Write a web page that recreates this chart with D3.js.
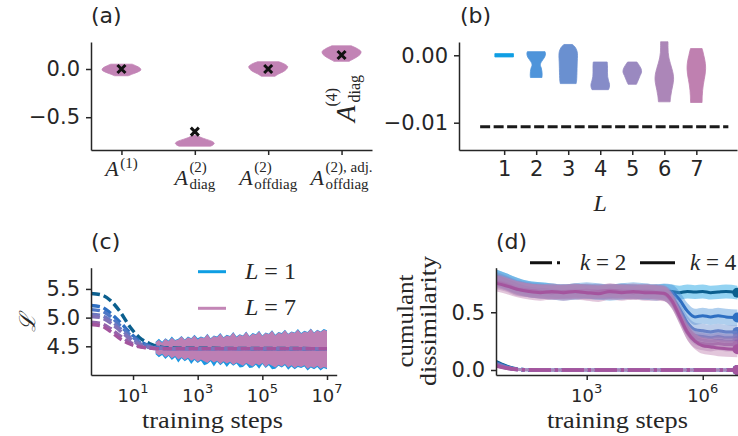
<!DOCTYPE html>
<html>
<head>
<meta charset="utf-8">
<script src="https://cdn.jsdelivr.net/npm/d3@7"></script>
<style>
  body { margin: 0; background: #ffffff; }
  svg { display: block; }
</style>
</head>
<body>
<svg id="fig" width="738" height="436"></svg>
<script>
// ---------------- data ----------------
// (a) cumulant coefficients, one violin per coefficient
const aPositions = [1, 2, 3, 4];
const aSup = ["(1)", "(2)", "(2)", "(2), adj."];
const aSub = ["", "diag", "offdiag", "offdiag"];
const aMeans = [0.0, -0.65, 0.0, 0.145];
const aViolinValues = [
  [0.05, 0.03, 0.01, -0.01, -0.03, -0.05, -0.07],
  [-0.69, -0.71, -0.73, -0.75, -0.77, -0.79, -0.80],
  [0.075, 0.05, 0.025, 0.0, -0.025, -0.05, -0.075],
  [0.24, 0.21, 0.18, 0.15, 0.12, 0.09, 0.08]
];
const aViolinDensity = [
  [0.55, 0.78, 0.95, 1.0, 0.85, 0.6, 0.35],
  [0.12, 0.32, 0.6, 0.88, 1.0, 0.92, 0.8],
  [0.55, 0.85, 1.0, 0.95, 0.8, 0.55, 0.35],
  [0.5, 0.82, 1.0, 0.95, 0.75, 0.48, 0.4]
];

// (b) A^(4)_diag per depth L
const bDepths = [1, 2, 3, 4, 5, 6, 7];
const bViolinValues = [
  [0.00025, -0.00025],
  [0.00054, 0.0003, 0.0, -0.0003, -0.0006, -0.0009, -0.0012, -0.0015, -0.0019, -0.0024, -0.0029, -0.0033],
  [0.0016, 0.0012, 0.0006, 0.0, -0.001, -0.002, -0.003, -0.0038, -0.0042],
  [-0.001, -0.0015, -0.002, -0.0026, -0.0032, -0.0038, -0.0043, -0.0048, -0.0051],
  [-0.001, -0.0015, -0.002, -0.0025, -0.003, -0.0035, -0.004, -0.0043],
  [0.002, 0.0012, 0.0004, -0.0004, -0.0012, -0.002, -0.0028, -0.0036, -0.0044, -0.0052, -0.006, -0.0069],
  [0.001, 0.0005, 0.0, -0.0006, -0.0012, -0.002, -0.0028, -0.0036, -0.0044, -0.0052, -0.006, -0.007]
];
const bViolinDensity = [
  [1.0, 1.0],
  [0.95, 1.0, 0.98, 0.9, 0.75, 0.6, 0.48, 0.45, 0.55, 0.62, 0.64, 0.62],
  [0.45, 0.75, 0.95, 1.0, 0.97, 0.95, 0.93, 0.9, 0.85],
  [0.75, 0.78, 0.78, 0.78, 0.8, 0.9, 1.0, 0.97, 0.88],
  [0.5, 0.75, 0.95, 1.0, 0.85, 0.7, 0.55, 0.45],
  [0.4, 0.4, 0.42, 0.5, 0.65, 0.82, 0.96, 1.0, 0.92, 0.8, 0.7, 0.63],
  [0.62, 0.72, 0.8, 0.9, 0.97, 1.0, 0.95, 0.85, 0.75, 0.68, 0.64, 0.62]
];
const bReference = -0.0106;

// colours per depth L = 1 ... 7
const depthColors = ["#0f9ee3", "#4e94da", "#6a90d0", "#868cc8", "#9a89c0", "#ac86b8", "#bf80b0"];
const depthLineColors = ["#0b5f8e", "#2e6fc2", "#4f78c6", "#6d78c0", "#8272b8", "#9464ac", "#a4559e"];

// (c) loss curves (mean) for L = 1 ... 7
const cSteps = [0.5, 1, 2, 4, 8, 16, 32, 64, 128, 1e7];
const cLoss = [
  [5.42, 5.40, 5.30, 5.10, 4.84, 4.65, 4.55, 4.49, 4.47, 4.46],
  [5.21, 5.19, 5.08, 4.92, 4.74, 4.59, 4.51, 4.48, 4.46, 4.46],
  [5.14, 5.12, 5.02, 4.86, 4.70, 4.57, 4.50, 4.47, 4.46, 4.46],
  [5.06, 5.04, 4.95, 4.81, 4.66, 4.55, 4.49, 4.47, 4.46, 4.46],
  [5.02, 5.00, 4.91, 4.77, 4.63, 4.53, 4.48, 4.47, 4.46, 4.46],
  [4.92, 4.90, 4.81, 4.68, 4.57, 4.50, 4.47, 4.46, 4.46, 4.46],
  [4.88, 4.86, 4.76, 4.63, 4.54, 4.49, 4.47, 4.46, 4.46, 4.46]
];
// per-step loss envelopes for L = 1 (blue) and L = 7 (pink), log10 of step
const cBandExp = [1.7, 1.8, 1.9, 2.0, 2.1, 2.2, 2.3, 2.4, 2.5, 2.6, 2.7, 2.8, 2.9, 3.0, 3.1, 3.2, 3.3, 3.4, 3.5, 3.6,
  3.7, 3.8, 3.9, 4.0, 4.1, 4.2, 4.3, 4.4, 4.5, 4.6, 4.7, 4.8, 4.9, 5.0, 5.1, 5.2, 5.3, 5.4, 5.5, 5.6,
  5.7, 5.8, 5.9, 6.0, 6.1, 6.2, 6.3, 6.4, 6.5, 6.6, 6.7, 6.8, 6.9, 7.0];
const cBlueUpper = [4.58, 4.63, 4.58, 4.64, 4.60, 4.67, 4.61, 4.63, 4.68, 4.62, 4.67, 4.64, 4.70, 4.64, 4.67, 4.65, 4.72, 4.64,
  4.69, 4.67, 4.73, 4.66, 4.70, 4.68, 4.75, 4.67, 4.71, 4.69, 4.76, 4.68, 4.73, 4.71, 4.77, 4.69, 4.74, 4.72,
  4.78, 4.70, 4.75, 4.73, 4.79, 4.72, 4.76, 4.74, 4.80, 4.73, 4.77, 4.75, 4.81, 4.74, 4.79, 4.76, 4.80, 4.78];
const cBlueLower = [4.36, 4.31, 4.35, 4.28, 4.33, 4.26, 4.31, 4.22, 4.29, 4.24, 4.28, 4.19, 4.26, 4.21, 4.25, 4.17, 4.19, 4.24,
  4.15, 4.23, 4.17, 4.22, 4.14, 4.21, 4.16, 4.20, 4.13, 4.14, 4.19, 4.12, 4.13, 4.18, 4.11, 4.19, 4.12, 4.17,
  4.10, 4.11, 4.16, 4.13, 4.17, 4.09, 4.15, 4.10, 4.14, 4.12, 4.15, 4.08, 4.13, 4.10, 4.14, 4.08, 4.12, 4.10];
const cPinkUpper = [4.57, 4.61, 4.56, 4.63, 4.59, 4.65, 4.60, 4.62, 4.67, 4.61, 4.66, 4.63, 4.69, 4.62, 4.66, 4.64, 4.71, 4.63,
  4.68, 4.66, 4.72, 4.65, 4.69, 4.67, 4.74, 4.66, 4.70, 4.68, 4.75, 4.67, 4.72, 4.70, 4.76, 4.68, 4.73, 4.71,
  4.77, 4.69, 4.74, 4.72, 4.78, 4.71, 4.75, 4.73, 4.79, 4.72, 4.76, 4.74, 4.80, 4.73, 4.78, 4.75, 4.79, 4.77];
const cPinkLower = [4.38, 4.34, 4.37, 4.31, 4.35, 4.29, 4.33, 4.27, 4.31, 4.26, 4.30, 4.25, 4.28, 4.23, 4.27, 4.24, 4.21, 4.26,
  4.22, 4.25, 4.19, 4.24, 4.20, 4.23, 4.18, 4.22, 4.19, 4.16, 4.21, 4.18, 4.15, 4.20, 4.17, 4.21, 4.14, 4.19,
  4.16, 4.13, 4.18, 4.15, 4.19, 4.13, 4.17, 4.12, 4.16, 4.14, 4.17, 4.11, 4.15, 4.12, 4.16, 4.11, 4.14, 4.12];

// (d) cumulant dissimilarity, k = 4 (solid) and k = 2 (dash-dot), L = 1 ... 7
const dSteps = [4.6, 8, 16, 32, 63, 126, 251, 501, 1000, 2000, 4000, 8000, 16000, 32000, 63000, 1e5,
  1.6e5, 2.5e5, 4e5, 6.3e5, 1e6, 1.6e6, 2.5e6, 4e6, 7.9e6];
const dK4 = [
  [0.81, 0.78, 0.74, 0.71, 0.70, 0.69, 0.68, 0.69, 0.68, 0.67, 0.68, 0.69, 0.68, 0.67, 0.68, 0.685, 0.68, 0.67, 0.68, 0.675, 0.68, 0.67, 0.675, 0.68, 0.67],
  [0.80, 0.77, 0.73, 0.70, 0.69, 0.68, 0.67, 0.68, 0.69, 0.68, 0.67, 0.68, 0.69, 0.68, 0.67, 0.68, 0.67, 0.61, 0.51, 0.46, 0.47, 0.46, 0.47, 0.46, 0.455],
  [0.79, 0.76, 0.72, 0.70, 0.69, 0.68, 0.68, 0.67, 0.68, 0.69, 0.68, 0.67, 0.68, 0.69, 0.68, 0.67, 0.63, 0.53, 0.41, 0.35, 0.34, 0.33, 0.34, 0.33, 0.33],
  [0.78, 0.75, 0.71, 0.69, 0.68, 0.67, 0.68, 0.69, 0.68, 0.67, 0.68, 0.69, 0.68, 0.67, 0.68, 0.66, 0.61, 0.50, 0.37, 0.30, 0.29, 0.28, 0.29, 0.28, 0.28],
  [0.77, 0.75, 0.71, 0.69, 0.68, 0.68, 0.67, 0.68, 0.69, 0.68, 0.67, 0.68, 0.67, 0.68, 0.67, 0.66, 0.60, 0.48, 0.35, 0.28, 0.26, 0.25, 0.26, 0.25, 0.25],
  [0.76, 0.74, 0.70, 0.69, 0.68, 0.67, 0.68, 0.68, 0.67, 0.68, 0.69, 0.68, 0.67, 0.68, 0.67, 0.66, 0.59, 0.46, 0.32, 0.25, 0.23, 0.22, 0.23, 0.22, 0.22],
  [0.75, 0.73, 0.70, 0.68, 0.67, 0.68, 0.67, 0.68, 0.67, 0.66, 0.68, 0.67, 0.68, 0.67, 0.67, 0.665, 0.60, 0.47, 0.33, 0.25, 0.21, 0.20, 0.19, 0.185, 0.18]
];
const dK2 = [
  [0.07, 0.035, 0.008, 0.001, 0, 0, 0, 0, 0, 0, 0, 0, 0, 0, 0, 0, 0, 0, 0, 0, 0, 0, 0, 0, 0],
  [0.062, 0.03, 0.007, 0.001, 0, 0, 0, 0, 0, 0, 0, 0, 0, 0, 0, 0, 0, 0, 0, 0, 0, 0, 0, 0, 0],
  [0.056, 0.027, 0.006, 0.001, 0, 0, 0, 0, 0, 0, 0, 0, 0, 0, 0, 0, 0, 0, 0, 0, 0, 0, 0, 0, 0],
  [0.05, 0.024, 0.005, 0.001, 0, 0, 0, 0, 0, 0, 0, 0, 0, 0, 0, 0, 0, 0, 0, 0, 0, 0, 0, 0, 0],
  [0.045, 0.022, 0.005, 0.001, 0, 0, 0, 0, 0, 0, 0, 0, 0, 0, 0, 0, 0, 0, 0, 0, 0, 0, 0, 0, 0],
  [0.04, 0.02, 0.004, 0.001, 0, 0, 0, 0, 0, 0, 0, 0, 0, 0, 0, 0, 0, 0, 0, 0, 0, 0, 0, 0, 0],
  [0.035, 0.018, 0.004, 0.001, 0, 0, 0, 0, 0, 0, 0, 0, 0, 0, 0, 0, 0, 0, 0, 0, 0, 0, 0, 0, 0]
];
const dK4Spread = [0.06, 0.07, 0.06, 0.06, 0.06, 0.06, 0.07];
const dK2Spread = [0.012, 0.012, 0.012, 0.012, 0.012, 0.012, 0.012];

// tick values
const aYTicks = [-0.5, 0.0];
const bYTicks = [-0.01, 0.0];
const cYTicks = [4.5, 5.0, 5.5];
const cXTickExp = [1, 3, 5, 7];
const dYTicks = [0.0, 0.5];
const dXTickExp = [3, 6];

// ---------------- drawing ----------------
const ink = "#262626";
const sans = "'DejaVu Sans', sans-serif";
const serif = "'Liberation Serif', 'Times New Roman', serif";
const tickFont = 21;
const svg = d3.select("#fig");

function styleAxis(g) {
  g.select(".domain").attr("stroke", ink).attr("stroke-width", 1.5);
  g.selectAll(".tick line").attr("stroke", ink).attr("stroke-width", 1.5);
  g.selectAll(".tick text").attr("font-family", sans).attr("font-size", tickFont).attr("fill", ink);
}
function leftAxis(scale, ticks, fmt, x) {
  const g = svg.append("g").attr("transform", `translate(${x},0)`)
    .call(d3.axisLeft(scale).tickValues(ticks).tickFormat(fmt).tickSize(5).tickSizeOuter(0).tickPadding(6));
  styleAxis(g);
  return g;
}
function bottomAxis(scale, ticks, fmt, y) {
  const g = svg.append("g").attr("transform", `translate(0,${y})`)
    .call(d3.axisBottom(scale).tickValues(ticks).tickFormat(fmt).tickSize(5).tickSizeOuter(0).tickPadding(6));
  styleAxis(g);
  return g;
}
function logLabels(scale, exps, y) {
  exps.forEach(e => {
    const t = svg.append("text").attr("x", scale(Math.pow(10, e))).attr("y", y)
      .attr("text-anchor", "middle").attr("font-family", sans).attr("font-size", 18).attr("fill", ink);
    t.append("tspan").text("10");
    t.append("tspan").attr("dy", -9).attr("font-size", 13).text(e);
  });
}
function panelLabel(txt, x, y) {
  svg.append("text").attr("x", x).attr("y", y).attr("font-family", sans)
    .attr("font-size", 22).attr("fill", ink).text(txt);
}
// italic base symbol with optional stacked super/subscript, centred on its anchor
function mathLabel(parent, base, sup, sub, fs, ss, supRise, subDrop) {
  const g = parent.append("g");
  const inner = g.append("g");
  const b = inner.append("text").attr("font-family", serif).attr("font-style", "italic")
    .attr("font-size", fs).attr("fill", ink).text(base);
  const bw = b.node().getComputedTextLength();
  const x0 = bw + 1.5;
  let w = bw;
  if (sup) {
    const s = inner.append("text").attr("x", x0).attr("y", -supRise).attr("font-family", serif)
      .attr("font-size", ss).attr("fill", ink).text(sup);
    w = Math.max(w, x0 + s.node().getComputedTextLength());
  }
  if (sub) {
    const s = inner.append("text").attr("x", x0).attr("y", subDrop).attr("font-family", serif)
      .attr("font-size", ss).attr("fill", ink).text(sub);
    w = Math.max(w, x0 + s.node().getComputedTextLength());
  }
  inner.attr("transform", `translate(${-w / 2},0)`);
  return g;
}
function violin(x, y, pos, values, dens, halfUnits, color) {
  const half = x(pos + halfUnits) - x(pos);
  const pts = values.map((v, i) => ({ v, w: dens[i] }));
  const area = d3.area()
    .y(d => y(d.v))
    .x0(d => x(pos) - d.w * half)
    .x1(d => x(pos) + d.w * half)
    .curve(d3.curveCatmullRom.alpha(0.5));
  svg.append("path").datum(pts).attr("d", area).attr("fill", color).attr("stroke", color).attr("stroke-width", 0.8);
}

// ----- panel (a)
const xA = d3.scaleLinear().domain([0.585, 4.415]).range([91, 372]);
const yA = d3.scaleLinear().domain([-0.84, 0.28]).range([150, 42]);
aPositions.forEach((p, i) => violin(xA, yA, p, aViolinValues[i], aViolinDensity[i], 0.265, "#c283b5"));
aPositions.forEach((p, i) => {
  const cx = xA(p), cy = yA(aMeans[i]), r = 4;
  svg.append("path").attr("d", `M${cx - r},${cy - r}L${cx + r},${cy + r}M${cx - r},${cy + r}L${cx + r},${cy - r}`)
    .attr("stroke", "#111").attr("stroke-width", 3).attr("fill", "none");
});
leftAxis(yA, aYTicks, d3.format(".1f"), 91);
bottomAxis(xA, aPositions, () => "", 150);
aPositions.forEach((p, i) => {
  const hasSub = aSub[i] !== "";
  const g = mathLabel(svg, "A", aSup[i], aSub[i], 22, 15, hasSub ? 13 : 8, 4);
  g.attr("transform", `translate(${xA(p)},${hasSub ? 185 : 176})`);
});
panelLabel("(a)", 91, 23);

// ----- panel (b)
const xB = d3.scaleLinear().domain([-0.41, 8.27]).range([459, 737]);
const yB = d3.scaleLinear().domain([-0.01405, 0.00197]).range([150, 42]);
bDepths.forEach((L, i) => violin(xB, yB, L, bViolinValues[i], bViolinDensity[i], 0.29, depthColors[i]));
svg.append("line").attr("x1", xB(0.25)).attr("x2", xB(8.0)).attr("y1", yB(bReference)).attr("y2", yB(bReference))
  .attr("stroke", "#1a1a1a").attr("stroke-width", 3).attr("stroke-dasharray", "10,3.5");
leftAxis(yB, bYTicks, d3.format(".2f"), 459);
bottomAxis(xB, bDepths, d3.format("d"), 150);
svg.append("text").attr("x", xB(4)).attr("y", 211).attr("text-anchor", "middle")
  .attr("font-family", serif).attr("font-style", "italic").attr("font-size", 24).attr("fill", ink).text("L");
// y label of (b): A^(4)_diag, reading upwards, baseline at x = 355, starting at y = 122
const bLab = svg.append("g").attr("transform", "translate(355,122) rotate(-90)");
const bA = bLab.append("text").attr("font-family", serif).attr("font-style", "italic")
  .attr("font-size", 27).attr("fill", ink).text("A");
const bAw = bA.node().getComputedTextLength();
bLab.append("text").attr("x", bAw - 1).attr("y", -18).attr("font-family", serif)
  .attr("font-size", 16).attr("fill", ink).text("(4)");
bLab.append("text").attr("x", bAw + 3).attr("y", 5).attr("font-family", serif)
  .attr("font-size", 16).attr("fill", ink).text("diag");
panelLabel("(b)", 460, 23);

// ----- panel (c)
const xC = d3.scaleLog().domain([Math.pow(10, -0.3), Math.pow(10, 7.3)]).range([91, 336.7]);
const yC = d3.scaleLinear().domain([4.0, 5.87]).range([375, 267.7]);
function band(x, y, steps, lo, hi, color, opacity) {
  const pts = steps.map((s, i) => ({ s, lo: lo[i], hi: hi[i] }));
  svg.append("path").datum(pts)
    .attr("d", d3.area().x(d => x(d.s)).y0(d => y(d.lo)).y1(d => y(d.hi)))
    .attr("fill", color).attr("fill-opacity", opacity);
}
const cBandSteps = cBandExp.map(e => Math.pow(10, e));
band(xC, yC, cBandSteps, cBlueLower, cBlueUpper, "#1a98e2", 1);
band(xC, yC, cBandSteps, cPinkLower, cPinkUpper, "#bd7fb4", 1);
cLoss.forEach((series, i) => {
  const line = d3.line().x((d, j) => xC(cSteps[j])).y(d => yC(d)).curve(d3.curveMonotoneX);
  svg.append("path").datum(series).attr("d", line).attr("fill", "none")
    .attr("stroke", depthLineColors[i]).attr("stroke-width", 3.4).attr("stroke-dasharray", "9,4");
});
leftAxis(yC, cYTicks, d3.format(".1f"), 91);
bottomAxis(xC, cXTickExp.map(e => Math.pow(10, e)), () => "", 375);
logLabels(xC, cXTickExp, 402);
svg.append("text").attr("x", 212.5).attr("y", 428).attr("text-anchor", "middle")
  .attr("font-family", serif).attr("font-size", 24).attr("fill", ink)
  .attr("textLength", 141).attr("lengthAdjust", "spacingAndGlyphs").text("training steps");
svg.append("text").attr("transform", "translate(35,323) rotate(-90)").attr("text-anchor", "middle")
  .attr("font-family", "'DejaVu Serif', serif").attr("font-style", "italic").attr("font-size", 22).attr("fill", ink).text("ℒ");
// legend
[["1", 271.7, depthColors[0]], ["7", 308.3, "#c386b6"]].forEach(([num, ly, col]) => {
  svg.append("line").attr("x1", 198).attr("x2", 226).attr("y1", ly).attr("y2", ly)
    .attr("stroke", col).attr("stroke-width", 3);
  const t = svg.append("text").attr("x", 245).attr("y", ly + 7).attr("font-family", serif)
    .attr("font-size", 24).attr("fill", ink);
  t.append("tspan").attr("font-style", "italic").text("L");
  t.append("tspan").text(" = " + num);
});
panelLabel("(c)", 91, 249);

// ----- panel (d)
const xD = d3.scaleLog().domain([Math.pow(10, 0.655), 1e7]).range([496, 741.4]);
const yD = d3.scaleLinear().domain([-0.0433, 0.886]).range([375, 267.7]);
svg.append("clipPath").attr("id", "clipD").append("rect")
  .attr("x", 496).attr("y", 262).attr("width", 250).attr("height", 120);
const gD = svg.append("g").attr("clip-path", "url(#clipD)");
function dSeries(series, spread, color, lineColor, dash) {
  const pts = series.map((v, j) => ({ s: dSteps[j], v }));
  gD.append("path").datum(pts)
    .attr("d", d3.area().x(d => xD(d.s)).y0(d => yD(d.v - spread)).y1(d => yD(d.v + spread)).curve(d3.curveMonotoneX))
    .attr("fill", color).attr("fill-opacity", 0.45);
  const p = gD.append("path").datum(pts)
    .attr("d", d3.line().x(d => xD(d.s)).y(d => yD(d.v)).curve(d3.curveMonotoneX))
    .attr("fill", "none").attr("stroke", lineColor).attr("stroke-width", dash ? 3.6 : 3);
  if (dash) p.attr("stroke-dasharray", dash);
  const last = pts[pts.length - 1];
  gD.append("circle").attr("cx", xD(last.s)).attr("cy", yD(last.v)).attr("r", 5).attr("fill", lineColor);
}
dK4.forEach((s, i) => dSeries(s, dK4Spread[i], depthColors[i], depthLineColors[i], null));
dK2.forEach((s, i) => dSeries(s, dK2Spread[i], depthColors[i], depthLineColors[i], "22,4,3,4"));
leftAxis(yD, dYTicks, d3.format(".1f"), 496);
bottomAxis(xD, dXTickExp.map(e => Math.pow(10, e)), () => "", 375);
logLabels(xD, dXTickExp, 402);
svg.append("text").attr("x", 617.5).attr("y", 428).attr("text-anchor", "middle")
  .attr("font-family", serif).attr("font-size", 24).attr("fill", ink)
  .attr("textLength", 141).attr("lengthAdjust", "spacingAndGlyphs").text("training steps");
const yl = svg.append("g").attr("transform", "translate(413,321) rotate(-90)");
yl.append("text").attr("x", 0).attr("y", 0).attr("text-anchor", "middle").attr("font-family", serif)
  .attr("font-size", 24).attr("fill", ink).attr("textLength", 93).attr("lengthAdjust", "spacingAndGlyphs").text("cumulant");
yl.append("text").attr("x", 0).attr("y", 23).attr("text-anchor", "middle").attr("font-family", serif)
  .attr("font-size", 24).attr("fill", ink).attr("textLength", 130).attr("lengthAdjust", "spacingAndGlyphs").text("dissimilarity");
// legend
svg.append("line").attr("x1", 530).attr("x2", 567).attr("y1", 262.7).attr("y2", 262.7)
  .attr("stroke", "#111").attr("stroke-width", 3).attr("stroke-dasharray", "22,5,3,40");
svg.append("line").attr("x1", 640).attr("x2", 675).attr("y1", 262.7).attr("y2", 262.7)
  .attr("stroke", "#111").attr("stroke-width", 3);
[["2", 580], ["4", 690]].forEach(([num, lx]) => {
  const t = svg.append("text").attr("x", lx).attr("y", 270).attr("font-family", serif)
    .attr("font-size", 23).attr("fill", ink);
  t.append("tspan").attr("font-style", "italic").text("k");
  t.append("tspan").text(" = " + num);
});
panelLabel("(d)", 496, 249);
</script>
</body>
</html>
